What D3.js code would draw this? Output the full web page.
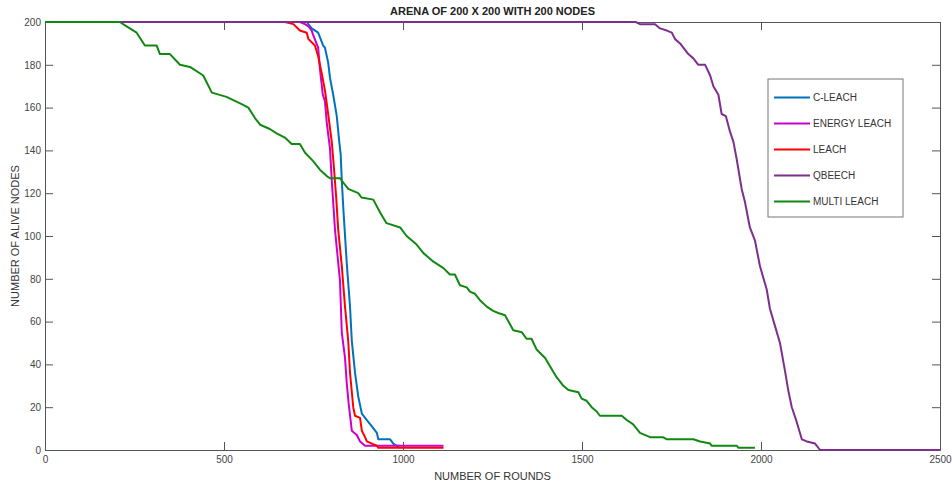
<!DOCTYPE html>
<html>
<head>
<meta charset="utf-8">
<script src="https://cdn.jsdelivr.net/npm/d3@7"></script>
<style>
  body { margin: 0; background: #fff; }
  svg { display: block; font-family: "Liberation Sans", Arial, sans-serif; }
</style>
</head>
<body>
<svg id="chart"></svg>
<script>
// data: [round, alive nodes]
const cLeach = [[0,200],[731,200],[745,197],[763,195],[777,189],[782,188],[791,181],[796,174],[805,166],[815,156],[822,144],[826,138],[829,126],[834,111],[843,87],[852,67],[857,51],[866,36],[875,25],[885,17],[899,14],[913,11],[927,8],[931,5],[964,5],[973,3],[982,2],[990,2]];
const energyLeach = [[0,200],[712,200],[726,199],[736,198],[745,196],[749,194],[763,188],[768,178],[776,166],[782,163],[787,153],[796,141],[801,126],[810,103],[824,79],[829,55],[838,43],[843,31],[848,22],[857,9],[871,7],[880,4],[894,2],[1113,2]];
const leach = [[0,200],[670,200],[694,199],[712,196],[731,195],[736,192],[754,189],[763,184],[773,176],[782,168],[791,157],[801,144],[807,132],[813,119],[819,103],[829,86],[838,67],[847,51],[852,36],[861,20],[866,16],[880,15],[885,9],[894,6],[899,4],[913,3],[927,2],[931,1],[1113,1]];
const qbeech = [[0,200],[1650,200],[1662,199],[1704,199],[1718,197],[1737,196],[1751,195],[1760,192],[1774,190],[1783,188],[1797,185],[1811,183],[1825,180],[1844,180],[1858,175],[1867,170],[1881,166],[1890,157],[1902,156],[1913,149],[1923,144],[1932,136],[1941,127],[1946,122],[1955,116],[1969,104],[1983,98],[1997,86],[2016,75],[2025,66],[2039,58],[2053,50],[2067,37],[2076,28],[2086,20],[2100,13],[2114,5],[2128,4],[2151,3],[2165,0],[2500,0]];
const multiLeach = [[0,200],[209,200],[228,198],[256,195],[279,189],[312,189],[321,185],[349,185],[377,180],[405,179],[442,175],[466,167],[507,165],[545,162],[568,160],[587,155],[601,152],[628,150],[647,148],[670,146],[689,143],[712,143],[726,139],[749,135],[768,131],[787,128],[796,127],[824,127],[833,125],[847,122],[875,120],[884,118],[917,117],[936,111],[954,106],[992,104],[1010,100],[1038,96],[1057,92],[1085,88],[1113,85],[1131,82],[1145,82],[1159,77],[1178,76],[1187,74],[1201,73],[1215,70],[1234,67],[1252,65],[1266,64],[1285,63],[1308,56],[1332,55],[1345,52],[1359,52],[1373,47],[1397,43],[1411,39],[1429,34],[1448,30],[1462,28],[1490,27],[1499,24],[1513,23],[1527,20],[1541,18],[1550,16],[1611,16],[1625,14],[1643,12],[1662,8],[1690,6],[1726,6],[1737,5],[1811,5],[1830,4],[1858,3],[1862,2],[1932,2],[1937,1],[1983,1]];

const seriesNames = ['C-LEACH', 'ENERGY LEACH', 'LEACH', 'QBEECH', 'MULTI LEACH'];
const seriesData = [cLeach, energyLeach, leach, qbeech, multiLeach];
const seriesColors = ['#0072bd', '#cc00cc', '#ff0000', '#7e2f8e', '#118811'];
const xTicks = [0, 500, 1000, 1500, 2000, 2500];
const yTicks = [0, 20, 40, 60, 80, 100, 120, 140, 160, 180, 200];

const width = 952;
const height = 488;
const margin = { top: 22, right: 12, bottom: 38, left: 45 };

const svg = d3.select('#chart')
  .attr('width', width)
  .attr('height', height);

const x = d3.scaleLinear().domain([0, 2500]).range([margin.left, width - margin.right]);
const y = d3.scaleLinear().domain([0, 200]).range([height - margin.bottom, margin.top]);

const axisColor = '#555';
const fmt = d3.format('d');

// axes, ticks pointing inward like matlab
svg.append('g')
  .attr('transform', `translate(0,${y(0)})`)
  .call(d3.axisBottom(x).tickValues(xTicks).tickFormat(fmt).tickSizeInner(-8).tickSizeOuter(0).tickPadding(6))
  .call(g => g.selectAll('text').attr('font-size', 10).attr('fill', '#444'));

svg.append('g')
  .attr('transform', `translate(0,${y(200)})`)
  .call(d3.axisTop(x).tickValues(xTicks).tickSizeInner(-8).tickSizeOuter(0).tickFormat(''));

svg.append('g')
  .attr('transform', `translate(${x(0)},0)`)
  .call(d3.axisLeft(y).tickValues(yTicks).tickFormat(fmt).tickSizeInner(-8).tickSizeOuter(0).tickPadding(4))
  .call(g => g.selectAll('text').attr('font-size', 10).attr('fill', '#444'));

svg.append('g')
  .attr('transform', `translate(${x(2500)},0)`)
  .call(d3.axisRight(y).tickValues(yTicks).tickSizeInner(-8).tickSizeOuter(0).tickFormat(''));

svg.selectAll('.domain, .tick line').attr('stroke', axisColor);

// lines
const line = d3.line()
  .x(d => x(d[0]))
  .y(d => y(d[1]));

svg.append('g')
  .selectAll('path')
  .data(seriesData)
  .enter().append('path')
  .attr('d', line)
  .attr('fill', 'none')
  .attr('stroke', (d, i) => seriesColors[i])
  .attr('stroke-width', 2)
  .attr('stroke-linejoin', 'round');

// titles
svg.append('text')
  .attr('x', (x(0) + x(2500)) / 2)
  .attr('y', 15)
  .attr('text-anchor', 'middle')
  .attr('font-size', 11)
  .attr('font-weight', 'bold')
  .attr('fill', '#222')
  .text('ARENA OF 200 X 200 WITH 200 NODES');

svg.append('text')
  .attr('x', (x(0) + x(2500)) / 2)
  .attr('y', 480)
  .attr('text-anchor', 'middle')
  .attr('font-size', 11)
  .attr('fill', '#333')
  .text('NUMBER OF ROUNDS');

svg.append('text')
  .attr('transform', `translate(19,${(y(0) + y(200)) / 2}) rotate(-90)`)
  .attr('text-anchor', 'middle')
  .attr('font-size', 11)
  .attr('fill', '#333')
  .text('NUMBER OF ALIVE NODES');

// legend
const legend = svg.append('g').attr('transform', 'translate(768,79)');
legend.append('rect')
  .attr('width', 135)
  .attr('height', 138)
  .attr('fill', '#fff')
  .attr('stroke', '#777')
  .attr('stroke-width', 1);

const item = legend.selectAll('g.item')
  .data(seriesNames)
  .enter().append('g')
  .attr('class', 'item')
  .attr('transform', (d, i) => `translate(0,${18.5 + i * 26})`);

item.append('line')
  .attr('x1', 6).attr('x2', 42)
  .attr('stroke', (d, i) => seriesColors[i])
  .attr('stroke-width', 2);

item.append('text')
  .attr('x', 45)
  .attr('dy', '0.35em')
  .attr('font-size', 10)
  .attr('fill', '#333')
  .text(d => d);
</script>
</body>
</html>
